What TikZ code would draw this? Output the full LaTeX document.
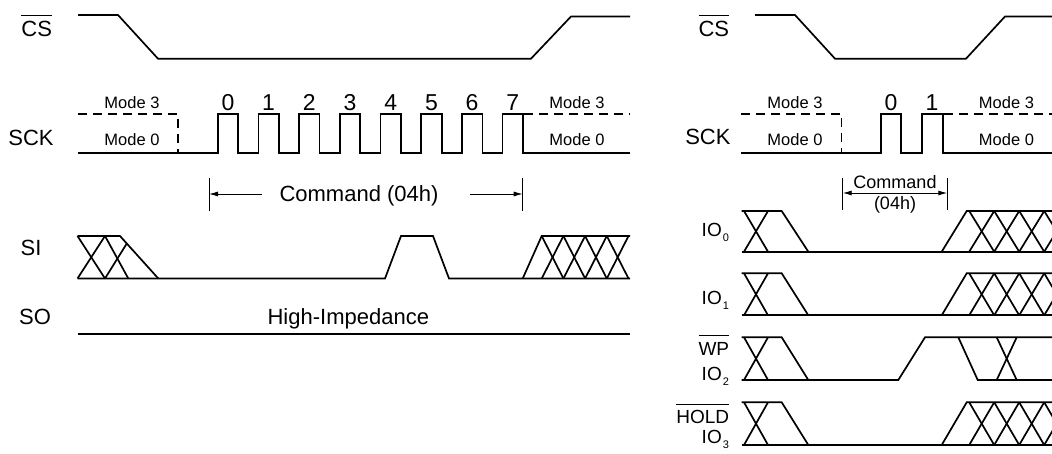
\documentclass[tikz,border=0pt]{standalone}
\usepackage{fontspec}
\setmainfont{Liberation Sans}
\usetikzlibrary{arrows.meta}
\newcommand{\barlabel}[1]{\leavevmode\vbox{\hrule height 1pt\kern 5.5pt\hbox{#1}}}
\newcommand{\iosub}[1]{IO\kern1.2pt\raisebox{-5pt}{\fontsize{11}{11}\selectfont #1}}
\tikzset{
  sig/.style={line width=1.7pt},
  dsig/.style={line width=1.5pt, dash pattern=on 9pt off 6pt},
  dimln/.style={line width=0.9pt},
  biglbl/.style={font=\fontsize{22}{26}\selectfont, inner sep=0pt},
  digit/.style={font=\fontsize{23}{27}\selectfont, inner sep=0pt},
  modelbl/.style={font=\fontsize{16.5}{20}\selectfont, inner sep=0pt},
  smlbl/.style={font=\fontsize{18}{22}\selectfont, inner sep=0pt},
  iolbl/.style={font=\fontsize{19}{23}\selectfont, inner sep=0pt},
  arr/.style={dimln, -{Latex[length=9pt,width=5pt]}},
  darr/.style={dimln, {Latex[length=9pt,width=5pt]}-{Latex[length=9pt,width=5pt]}}
}
\begin{document}
\begin{tikzpicture}[x=1pt,y=-1pt]
\useasboundingbox (0,0) rectangle (1052,454);
\begin{scope}
\clip (0,0) rectangle (1052,454);
% ================= LEFT PANEL =================
% labels
\node[biglbl, anchor=base] (lcs) at (36.7,36.7) {\barlabel{CS}};
\node[biglbl, anchor=base] (lsck) at (31,145.7) {SCK};
\node[biglbl, anchor=base] (lsi) at (31,256) {SI};
\node[biglbl, anchor=base] (lso) at (35,324) {SO};
% CS
\draw[sig] (78,15) -- (118,15) -- (158,58.7) -- (531,58.7) -- (571,16.5) -- (630,16.5);
% SCK
\draw[dsig] (78,114) -- (178,114) -- (178,153);
\draw[sig] (78,153) -- (217.7,153)
  \foreach \k in {0,...,7}{ -- ++(0,-39) -- ++(20.5,0) -- ++(0,39) -- ++(20.2,0)} -- (630,153);
\draw[dsig] (524,114) -- (630,114);
\foreach \k in {0,...,7}
  \node[digit, anchor=base] (ld\k) at ({227.9+40.7*\k},110.5) {\k};
\node[modelbl, anchor=base] (lm3a) at (132,108.5) {Mode 3};
\node[modelbl, anchor=base] (lm0a) at (132,146) {Mode 0};
\node[modelbl, anchor=base] (lm3b) at (577,108.5) {Mode 3};
\node[modelbl, anchor=base] (lm0b) at (577,146) {Mode 0};
% Command arrow
\coordinate (lbarL) at (209,194);
\coordinate (lbarR) at (522.7,194);
\draw[dimln] (209,178) -- (209,211);
\draw[dimln] (522.7,178) -- (522.7,211);
\node[biglbl, anchor=base] (lcmd) at (359,201.5) {Command (04h)};
\coordinate (lcmdL) at (262,194);
\coordinate (lcmdR) at (470,194);
\draw[arr] (lcmdL) -- (lbarL);
\draw[arr] (lcmdR) -- (lbarR);
% SI
\def\st{236}\def\sb{278.5}
\draw[sig] (77.5,\st) -- (120,\st) -- (158.3,\sb);
\draw[sig] (77.5,\sb) -- (385,\sb) -- (401,\st) -- (433,\st) -- (449,\sb) -- (630,\sb);
\draw[sig] (77.5,\st) -- (105,\sb);
\draw[sig] (77.5,\sb) -- (105,\st);
\draw[sig] (105,\st) -- (128.3,\sb);
\draw[sig] (105,\sb) -- (126.8,243.5);
\draw[sig] (522.7,\sb) -- (541.7,\st) -- (630,\st);
\foreach \a in {541.7,563.4,585.1,606.8}{
  \draw[sig] (\a,\st) -- ({\a+21.7},\sb);
  \draw[sig] (\a,\sb) -- ({\a+21.7},\st);
}
% SO
\draw[sig] (78,334) -- (630,334);
\node[biglbl, anchor=base] (lhz) at (348.3,324) {High-Impedance};
% ================= RIGHT PANEL =================
\node[biglbl, anchor=base east] (rcs) at (729.3,37) {\barlabel{CS}};
\node[biglbl, anchor=base east] (rsck) at (730.7,144.5) {SCK};
% CS
\draw[sig] (755,15) -- (795,15) -- (835,58.7) -- (966,58.7) -- (1005,16.5) -- (1052,16.5);
% SCK
\draw[dsig] (741,114) -- (841.7,114) -- (841.7,153);
\draw[sig] (741,153) -- (881,153) -- (881,114) -- (901,114) -- (901,153) -- (921.7,153)
  -- (921.7,114) -- (942.7,114) -- (942.7,153) -- (1052,153);
\draw[dsig] (944,114) -- (1052,114);
\node[digit, anchor=base] (rd0) at (891,110.5) {0};
\node[digit, anchor=base] (rd1) at (932,110.5) {1};
\node[modelbl, anchor=base] (rm3a) at (795,108.5) {Mode 3};
\node[modelbl, anchor=base] (rm0a) at (795,146) {Mode 0};
\node[modelbl, anchor=base] (rm3b) at (1006.5,108.5) {Mode 3};
\node[modelbl, anchor=base] (rm0b) at (1006.5,146) {Mode 0};
% Command
\coordinate (rbarL) at (842.7,193);
\coordinate (rbarR) at (947.3,193);
\draw[dimln] (842.7,178) -- (842.7,210);
\draw[dimln] (947.3,178) -- (947.3,210);
\draw[darr] (rbarL) -- (rbarR);
\node[smlbl, anchor=base] (rcmd) at (895,189) {Command};
\node[smlbl, anchor=base] (rcmd2) at (895,209.5) {(04h)};
% IO labels
\node[iolbl, anchor=base east] (rio0) at (729.3,236.7) {\iosub{0}};
\node[iolbl, anchor=base east] (rio1) at (729.3,305) {\iosub{1}};
\node[iolbl, anchor=base east] (rwp) at (729.3,355) {\barlabel{WP}};
\node[iolbl, anchor=base east] (rio2) at (729.3,380) {\iosub{2}};
\node[iolbl, anchor=base east] (rhold) at (729.3,423.3) {\barlabel{HOLD}};
\node[iolbl, anchor=base east] (rio3) at (729.3,443.3) {\iosub{3}};
% IO waveforms
\foreach \t/\b in {211/251.7, 273.3/315.3, 337.3/380, 402.3/445}{
  \draw[sig] (741.7,\t) -- (781.7,\t) -- (808.3,\b);
  \draw[sig] (744,\t) -- (768,\b);
  \draw[sig] (744,\b) -- (768,\t);
}
\foreach \t/\b in {211/251.7, 273.3/315.3, 402.3/445}{
  \draw[sig] (741.7,\b) -- (1052,\b);
  \draw[sig] (941.7,\b) -- (966.7,\t) -- (1052,\t);
  \foreach \a in {969.2,994.2,1019.2,1044.2}{
    \draw[sig] (\a,\t) -- ({\a+25},\b);
    \draw[sig] (\a,\b) -- ({\a+25},\t);
  }
}
% IO2
\draw[sig] (741.7,380) -- (898.3,380) -- (925,337.3) -- (1052,337.3);
\draw[sig] (958.3,337.3) -- (977.7,380) -- (1052,380);
\draw[sig] (996.7,337.3) -- (1016.7,380);
\draw[sig] (996.7,380) -- (1016.7,337.3);
\end{scope}
\end{tikzpicture}
\end{document}
